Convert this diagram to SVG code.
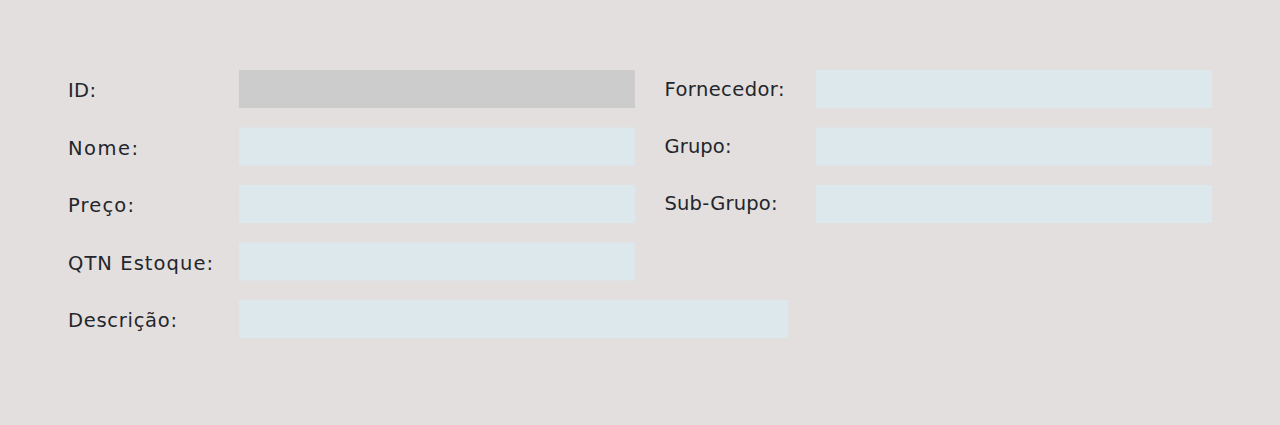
<svg xmlns="http://www.w3.org/2000/svg" width="1280" height="425" viewBox="0 0 1280 425">
<style>
.bg{fill:#e3dfde}
.in{fill:#dde8ed}
.ro{fill:#cccccc}
.lbl{font-family:"DejaVu Sans","Open Sans",sans-serif;font-size:19.5px;fill:#23262b}
</style>
<rect class="bg" x="0" y="0" width="1280" height="425"/>
<g id="field-id"><text class="lbl" x="68" y="97" textLength="28" lengthAdjust="spacing">ID:</text><rect class="ro" x="239" y="70" width="396" height="38"/></g>
<g id="field-nome"><text class="lbl" x="68" y="155" textLength="70" lengthAdjust="spacing">Nome:</text><rect class="in" x="239" y="127.5" width="396" height="38"/></g>
<g id="field-preco"><text class="lbl" x="68" y="212" textLength="66" lengthAdjust="spacing">Preço:</text><rect class="in" x="239" y="185" width="396" height="38"/></g>
<g id="field-qtn"><text class="lbl" x="68" y="270" textLength="145" lengthAdjust="spacing">QTN Estoque:</text><rect class="in" x="239" y="242.5" width="396" height="38"/></g>
<g id="field-descricao"><text class="lbl" x="68" y="327" textLength="109" lengthAdjust="spacing">Descrição:</text><rect class="in" x="239" y="300" width="549" height="38"/></g>
<g id="field-fornecedor"><text class="lbl" x="664.5" y="96" textLength="120" lengthAdjust="spacing">Fornecedor:</text><rect class="in" x="816" y="70" width="396" height="38"/></g>
<g id="field-grupo"><text class="lbl" x="664.5" y="153" textLength="67" lengthAdjust="spacing">Grupo:</text><rect class="in" x="816" y="127.5" width="396" height="38"/></g>
<g id="field-subgrupo"><text class="lbl" x="664.5" y="210" textLength="113" lengthAdjust="spacing">Sub-Grupo:</text><rect class="in" x="816" y="185" width="396" height="38"/></g>
<g id="connectors"/>
</svg>
